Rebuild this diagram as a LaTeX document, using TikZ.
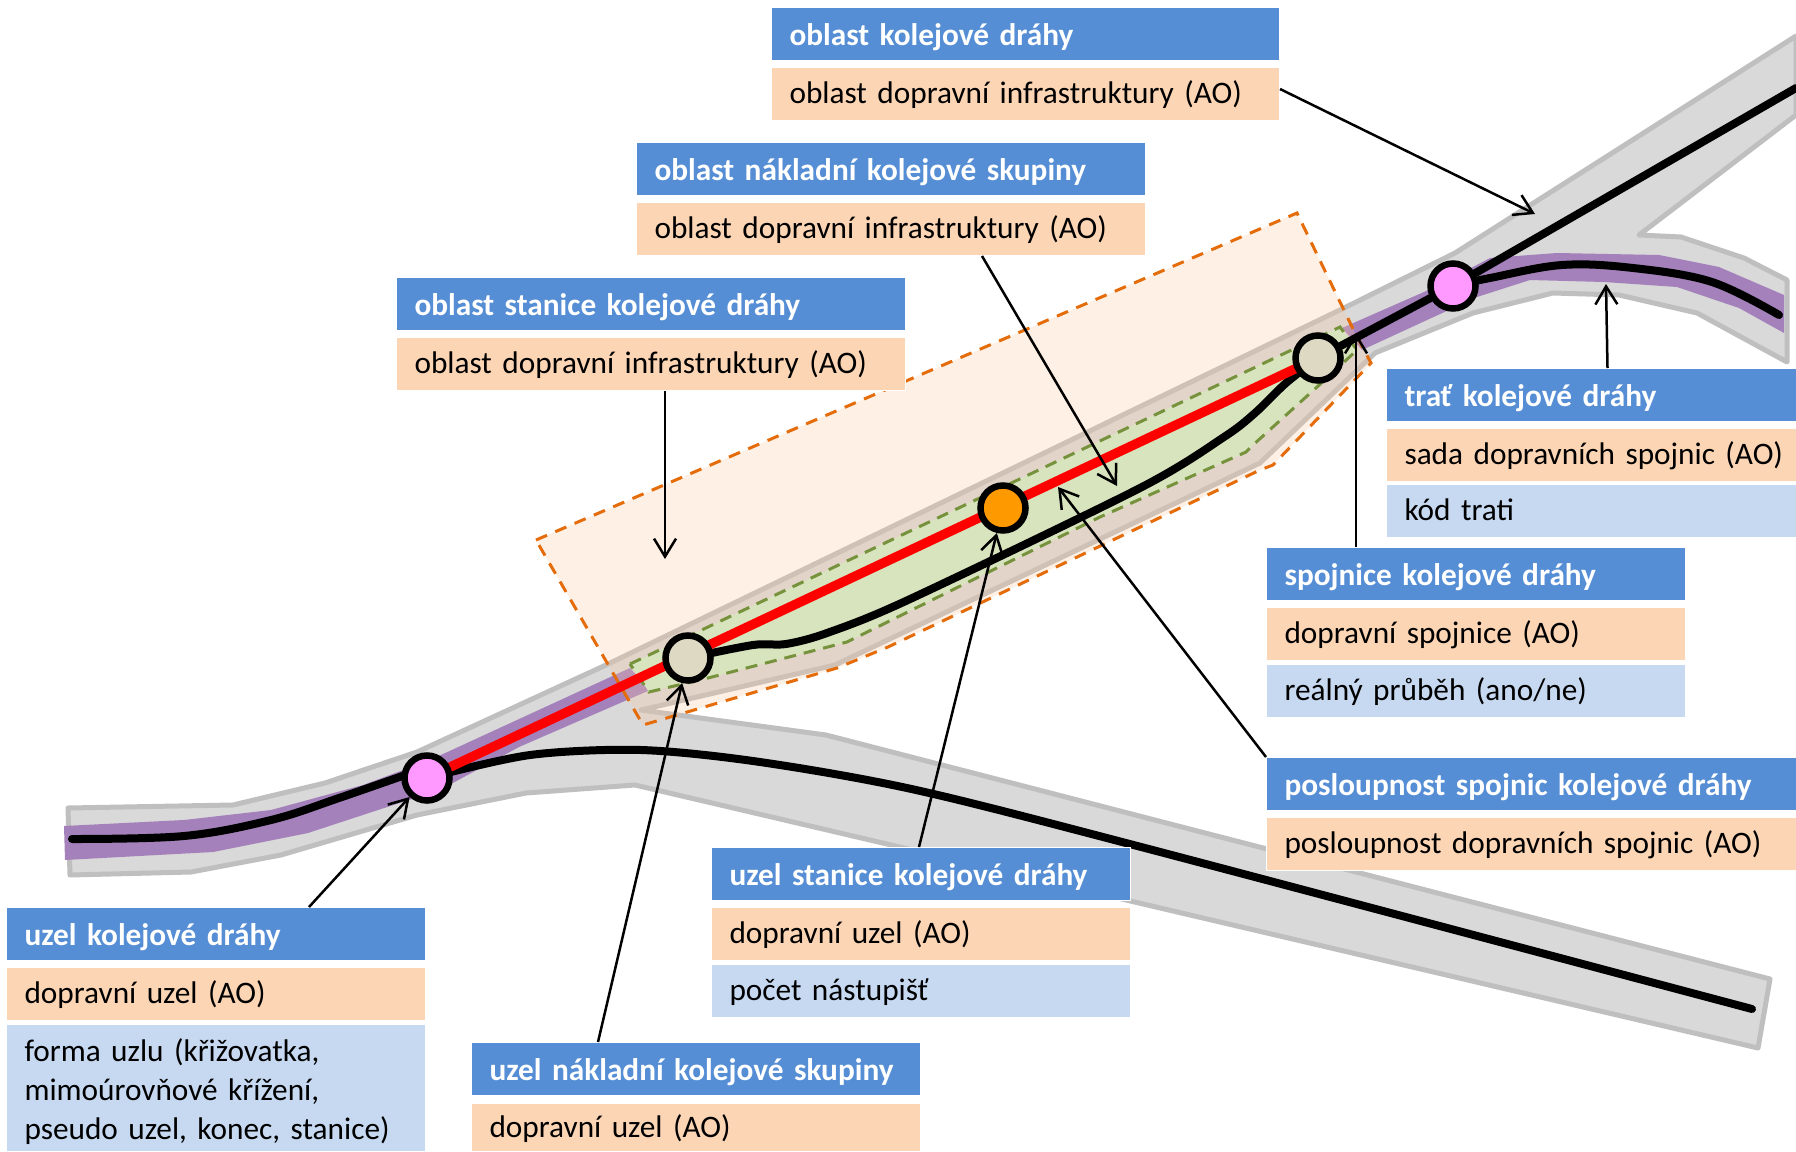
\documentclass[tikz,border=0pt]{standalone}
\usepackage{fontspec}
\setmainfont{Carlito}[WordSpace=0.8]
\usetikzlibrary{positioning,arrows.meta}
\definecolor{headblue}{HTML}{558ED5}
\definecolor{aoorange}{HTML}{FCD5B5}
\definecolor{attrblue}{HTML}{C6D9F1}
\definecolor{corridor}{HTML}{D9D9D9}
\definecolor{corridoredge}{HTML}{BFBFBF}
\definecolor{trackpurple}{HTML}{A481BB}
\definecolor{areatint}{HTML}{FAC99F}
\definecolor{areaedge}{HTML}{E46C0A}
\definecolor{freightfill}{HTML}{D8E4BD}
\definecolor{freightedge}{HTML}{76923C}
\definecolor{junctionpink}{HTML}{FF99FF}
\definecolor{junctionbeige}{HTML}{DDD9C3}
\definecolor{junctionorange}{HTML}{FF9900}
\tikzset{
  labelbox/.style={anchor=north west, rectangle, draw=white, line width=1, inner xsep=18, inner ysep=0, align=left,
    text width=#1-36, minimum height=53, text height=25, text depth=6, font=\fontsize{31.3}{39}\selectfont},
  headbox/.style={labelbox=#1, fill=headblue, text=white, text height=27, text depth=4, font=\fontsize{31.3}{39}\selectfont\bfseries},
  aobox/.style={labelbox=#1, fill=aoorange},
  attrbox/.style={labelbox=#1, fill=attrblue},
  pointer/.style={line width=2.5, -{Straight Barb[length=18,width=22,line width=2.5]}},
  trackline/.style={line width=8, line cap=round, line join=round},
  junction/.style={circle, draw=black, line width=6.5, minimum size=45, inner sep=0},
}
\begin{document}
\begin{tikzpicture}[x=1pt, y=-1pt]
  \useasboundingbox (0,0) rectangle (1796,1151);
  \coordinate (pinkwest)  at (427,778);
  \coordinate (beigewest) at (688,658);
  \coordinate (stanice)   at (1003,508);
  \coordinate (beigeeast) at (1318,358);
  \coordinate (pinkeast)  at (1453,286);
  \coordinate (stanicetip) at (665,559);
  \coordinate (oblasttip)  at (1535,214);
  \coordinate (skupinatip) at (1117,486);
  \coordinate (trattip)    at (1606,284);
  \coordinate (spojtip)    at (1356,333);
  \coordinate (sledtip)    at (1058,487);
  % corridor
  \filldraw[fill=corridor, draw=corridoredge, line width=5, line join=round]
    (68,808) -- (233,805) -- (325,783) -- (417,752) -- (606,665) -- (1344,308) -- (1455,253) -- (1796,36)
    -- (1796,115) -- (1639,235) -- (1681,237) -- (1744,258) -- (1787,280) -- (1787,362) -- (1697,313)
    -- (1619,295) -- (1553,293) -- (1473,313) -- (1375,353) -- (1260,463) -- (835,665) -- (641,710)
    -- (826,735) -- (1770,979) -- (1758,1048) -- (635,785) -- (526,793) -- (417,815) -- (281,855)
    -- (191,872) -- (70,875) -- cycle;
  % purple bands
  \fill[trackpurple] (64,826) -- (184,820) -- (271,810) -- (363,785) -- (430,760) -- (630,668) -- (650,690)
    -- (519,747) -- (440,790) -- (378,810) -- (308,833) -- (213,852) -- (65,860) -- cycle;
  \fill[trackpurple] (1342,328) -- (1433,288) -- (1490,258) -- (1557,253) -- (1659,255) -- (1719,267) -- (1784,295)
    -- (1784,333) -- (1739,308) -- (1677,287) -- (1604,282) -- (1530,280) -- (1477,297) -- (1362,350) -- cycle;
  % station area
  \fill[areatint, opacity=0.28] (536,540) -- (1297,213) -- (1355,333) -- (1371,363) -- (1273,465) -- (1260,470)
    -- (888,647) -- (837,668) -- (643,725) -- cycle;
  \draw[areaedge, line width=3, dash pattern=on 12 off 9] (536,540) -- (1297,213) -- (1355,333) -- (1371,363)
    -- (1273,465) -- (1260,470) -- (888,647) -- (837,668) -- (643,725) -- cycle;
  % freight group
  \filldraw[fill=freightfill, draw=freightedge, line width=3, dash pattern=on 12 off 8]
    (630,664) -- (1340,327) -- (1357,350) -- (1317,387) -- (1253,445) -- (1246,452) -- (1100,517) -- (847,642)
    -- (708,678) -- (649,692) -- cycle;
  % tracks
  \draw[trackline] plot[smooth, tension=0.6] coordinates {(72,839) (184,836) (271,820) (339,798) (425,768)};
  \draw[trackline] plot[smooth, tension=0.5] coordinates {(pinkwest) (530,755) (641,750) (760,762) (916,790) (1145,848) (1752,1009)};
  \draw[trackline] plot[smooth, tension=0.5] coordinates {(beigewest) (753,645) (786,644) (827,633) (908,600) (1140,488) (1224,437) (1255,413) (1286,383) (beigeeast)};
  \draw[trackline, red, line width=9.5, line cap=butt] (pinkwest) -- (beigeeast);
  \draw[trackline] (beigeeast) -- (pinkeast) -- (1796,88);
  \draw[trackline] plot[smooth, tension=0.6] coordinates {(pinkeast) (1490,278) (1562,265) (1633,268) (1712,282) (1779,315)};
  % junctions
  \node[junction, fill=junctionpink]   (uzelwest) at (pinkwest) {};
  \node[junction, fill=junctionbeige]  (skupwest) at (beigewest) {};
  \node[junction, fill=junctionorange] (stanuzel) at (stanice) {};
  \node[junction, fill=junctionbeige]  (skupeast) at (beigeeast) {};
  \node[junction, fill=junctionpink]   (uzeleast) at (pinkeast) {};
  % labels
  \node[headbox=508] (oblasthead) at (771,7)   {oblast kolejové dráhy};
  \node[aobox=508]   (oblastao)   at (771,67)  {oblast dopravní infrastruktury (AO)};
  \node[headbox=509] (skupinahead) at (636,142) {oblast nákladní kolejové skupiny};
  \node[aobox=509]   (skupinaao)   at (636,202) {oblast dopravní infrastruktury (AO)};
  \node[headbox=509] (stanicehead) at (396,277) {oblast stanice kolejové dráhy};
  \node[aobox=509]   (staniceao)   at (396,337) {oblast dopravní infrastruktury (AO)};
  \node[headbox=410] (trathead) at (1386,368) {trať kolejové dráhy};
  \node[aobox=410]   (tratao)   at (1386,428) {\mbox{sada dopravních spojnic (AO)}};
  \node[attrbox=410] (tratkod)  at (1386,484) {kód trati};
  \node[headbox=419] (spojhead) at (1266,547) {spojnice kolejové dráhy};
  \node[aobox=419]   (spojao)   at (1266,607) {dopravní spojnice (AO)};
  \node[attrbox=419] (spojreal) at (1266,664) {reálný průběh (ano/ne)};
  \node[headbox=530] (sledhead) at (1266,757) {posloupnost spojnic kolejové dráhy};
  \node[aobox=530]   (sledao)   at (1266,817) {posloupnost dopravních spojnic (AO)};
  \node[headbox=419] (uzelsthead) at (711,847) {uzel stanice kolejové dráhy};
  \node[aobox=419]   (uzelstao)   at (711,907) {dopravní uzel (AO)};
  \node[attrbox=419] (uzelstpocet) at (711,964) {počet nástupišť};
  \node[headbox=419] (uzelhead) at (6,907)  {uzel kolejové dráhy};
  \node[aobox=419]   (uzelao)   at (6,967)  {dopravní uzel (AO)};
  \node[attrbox=419, minimum height=127, text height=31, text depth=] (uzelforma) at (6,1024)
    {forma uzlu (křižovatka,\\ mimoúrovňové křížení,\\ pseudo uzel, konec, stanice)};
  \node[headbox=449] (nakladhead) at (471,1042) {\mbox{uzel nákladní kolejové skupiny}};
  \node[aobox=449, minimum height=48] (nakladao) at (471,1103) {dopravní uzel (AO)};
  % pointers
  \draw[pointer] ([yshift=5]oblastao.east) -- (oblasttip);
  \draw[pointer] ([xshift=91]skupinaao.south) -- (skupinatip);
  \draw[pointer] ([xshift=14]staniceao.south) -- (stanicetip);
  \draw[pointer] ([xshift=16]trathead.north) -- (trattip);
  \draw[pointer] ([xshift=-120]spojhead.north) -- (spojtip);
  \draw[pointer] (sledhead.north west) -- (sledtip);
  \draw[pointer] ([xshift=-2]uzelsthead.north) -- (stanuzel);
  \draw[pointer] ([xshift=-98]nakladhead.north) -- (skupwest);
  \draw[pointer] ([xshift=93]uzelhead.north) -- (uzelwest);
\end{tikzpicture}
\end{document}
